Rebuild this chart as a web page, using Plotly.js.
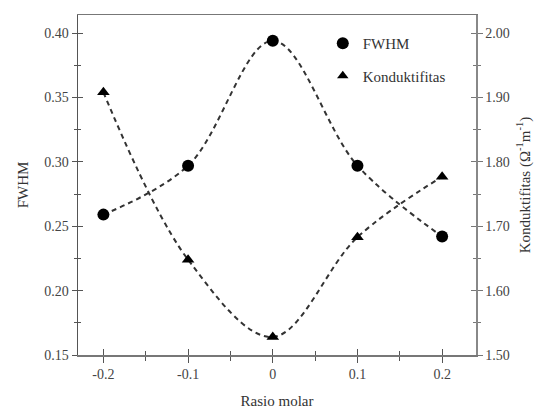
<!DOCTYPE html>
<html>
<head>
<meta charset="utf-8">
<script src="https://cdn.plot.ly/plotly-3.0.1.min.js"></script>
<style>html,body{margin:0;padding:0;background:#fff;}#chart{width:541px;height:419px;}</style>
</head>
<body>
<div id="chart"></div>
<script>
const rasioMolar = [-0.2, -0.1, 0, 0.1, 0.2];
const fwhm = [0.259, 0.297, 0.394, 0.297, 0.242];
const konduktifitas = [1.908, 1.648, 1.528, 1.683, 1.777];
const xTickVals = [-0.2, -0.1, 0, 0.1, 0.2];
const xTickText = ['-0.2', '-0.1', '0', '0.1', '0.2'];
const yLeftTicks = [0.15, 0.20, 0.25, 0.30, 0.35, 0.40];
const yLeftText = ['0.15', '0.20', '0.25', '0.30', '0.35', '0.40'];
const yRightTicks = [1.50, 1.60, 1.70, 1.80, 1.90, 2.00];
const yRightText = ['1.50', '1.60', '1.70', '1.80', '1.90', '2.00'];

const serif = 'Liberation Serif, Times New Roman, serif';
const lineCol = '#333';
const tickFont = {family: serif, size: 14, color: '#444'};

const traces = [
  {x: rasioMolar, y: fwhm, name: 'FWHM', type: 'scatter', mode: 'lines+markers', showlegend: false,
   line: {shape: 'spline', smoothing: 1, dash: '5px,4px', color: lineCol, width: 2},
   marker: {symbol: 'circle', size: 12, color: '#000'}, xaxis: 'x', yaxis: 'y'},
  {x: rasioMolar, y: konduktifitas, name: 'Konduktifitas', type: 'scatter', mode: 'lines+markers', showlegend: false,
   line: {shape: 'spline', smoothing: 1, dash: '5px,4px', color: lineCol, width: 2},
   marker: {symbol: 'triangle-up', size: 11, color: '#000'}, xaxis: 'x', yaxis: 'y2'},
  // legend entries (markers only)
  {x: [null], y: [null], name: 'FWHM', type: 'scatter', mode: 'markers', legendgroup: 'a',
   marker: {symbol: 'circle', size: 12, color: '#000'}, xaxis: 'x', yaxis: 'y'},
  {x: [null], y: [null], name: 'Konduktifitas', type: 'scatter', mode: 'markers', legendgroup: 'b',
   marker: {symbol: 'triangle-up', size: 10, color: '#000'}, xaxis: 'x', yaxis: 'y2'},
  // invisible traces to activate the overlay (inside-tick) axes
  {x: rasioMolar, y: fwhm, xaxis: 'x2', yaxis: 'y3', showlegend: false, hoverinfo: 'skip',
   type: 'scatter', mode: 'markers', marker: {opacity: 0}},
  {x: rasioMolar, y: konduktifitas, xaxis: 'x', yaxis: 'y4', showlegend: false, hoverinfo: 'skip',
   type: 'scatter', mode: 'markers', marker: {opacity: 0}}
];

const xRange = [-0.23, 0.24];
const yRange = [0.15, 0.414];
const y2Range = [1.50, 2.028];

const layout = {
  width: 541, height: 419,
  margin: {l: 78, r: 65, t: 15, b: 64},
  paper_bgcolor: '#fff', plot_bgcolor: '#fff',
  showlegend: true,
  legend: {x: 0.615, y: 0.965, xanchor: 'left', yanchor: 'top', bgcolor: 'rgba(0,0,0,0)',
           traceorder: 'grouped', tracegroupgap: 10,
           font: {family: serif, size: 15, color: '#333'}, itemwidth: 30},
  xaxis: {range: xRange, tickvals: xTickVals, ticktext: xTickText, ticks: 'outside', ticklen: 6,
          tickcolor: '#555', showgrid: false, zeroline: false, showline: true, linecolor: '#777',
          linewidth: 1.5, mirror: true, tickfont: tickFont,
          minor: {dtick: 0.05, tick0: -0.2, ticks: 'outside', ticklen: 4, tickcolor: '#555'},
          title: {text: 'Rasio molar', font: {family: serif, size: 15, color: '#333'}, standoff: 14}},
  xaxis2: {range: xRange, overlaying: 'x', anchor: 'y', tickvals: xTickVals, ticks: 'inside', ticklen: 6,
           tickcolor: '#555', showticklabels: false, showgrid: false, zeroline: false, showline: false,
           minor: {dtick: 0.05, tick0: -0.2, ticks: 'inside', ticklen: 4, tickcolor: '#555'}},
  yaxis: {range: yRange, tickvals: yLeftTicks, ticktext: yLeftText, ticks: 'outside', ticklen: 5,
          tickcolor: '#555', showgrid: false, zeroline: false, showline: true, linecolor: '#555',
          linewidth: 1.5, tickfont: tickFont,
          minor: {dtick: 0.025, tick0: 0.15, ticks: 'outside', ticklen: 3, tickcolor: '#555'},
          title: {text: 'FWHM', font: {family: serif, size: 15, color: '#333'}, standoff: 12}},
  yaxis3: {range: yRange, overlaying: 'y', anchor: 'x2', side: 'left', tickvals: yLeftTicks, ticks: 'inside',
           ticklen: 5, tickcolor: '#555', showticklabels: false, showgrid: false, zeroline: false,
           showline: false, minor: {dtick: 0.025, tick0: 0.15, ticks: 'inside', ticklen: 3, tickcolor: '#555'}},
  yaxis2: {range: y2Range, overlaying: 'y', side: 'right', anchor: 'x', tickvals: yRightTicks,
           ticktext: yRightText, ticks: 'outside', ticklen: 5, tickcolor: '#777', showgrid: false,
           zeroline: false, showline: true, linecolor: '#888', linewidth: 1.5, tickfont: tickFont,
           minor: {dtick: 0.05, tick0: 1.5, ticks: 'outside', ticklen: 3, tickcolor: '#777'},
           title: {text: 'Konduktifitas (Ω<sup>-1</sup>m<sup>-1</sup>)',
                   font: {family: serif, size: 15, color: '#333'}, standoff: 10}},
  yaxis4: {range: y2Range, overlaying: 'y', side: 'right', anchor: 'x', tickvals: yRightTicks,
           ticks: 'inside', ticklen: 5, tickcolor: '#777', showticklabels: false, showgrid: false,
           zeroline: false, showline: false,
           minor: {dtick: 0.05, tick0: 1.5, ticks: 'inside', ticklen: 3, tickcolor: '#777'}}
};

Plotly.newPlot('chart', traces, layout, {staticPlot: true, displayModeBar: false});
</script>
</body>
</html>
